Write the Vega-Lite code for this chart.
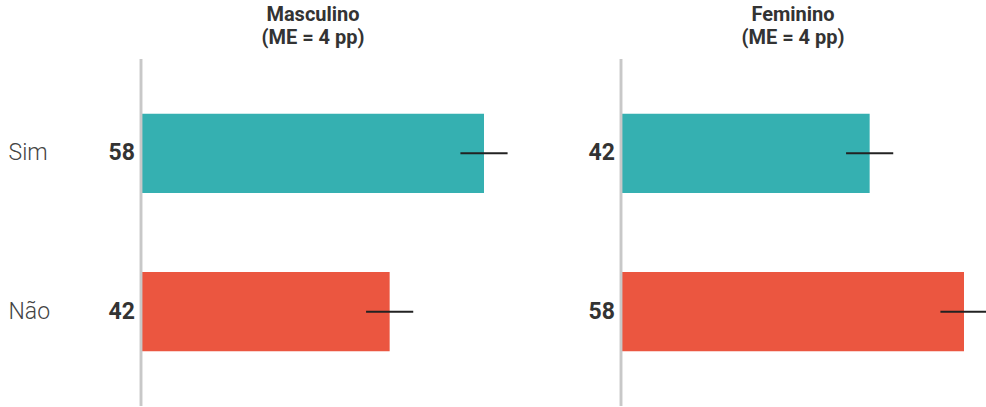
{
  "$schema": "https://vega.github.io/schema/vega-lite/v6.json",
  "autosize": {"type": "pad"},
  "padding": {"left": 8, "top": 4, "right": 0, "bottom": 0},
  "bounds": "flush",
  "spacing": 138,
  "config": {
    "view": {"stroke": null},
    "font": "Roboto",
    "title": {"fontSize": 20, "fontWeight": "bold", "color": "#333333", "anchor": "middle", "lineHeight": 23, "offset": 10}
  },
  "data": {
    "values": [
      {"genero": "Masculino", "resposta": "Sim", "valor": 58, "me": 4},
      {"genero": "Masculino", "resposta": "Não", "valor": 42, "me": 4},
      {"genero": "Feminino", "resposta": "Sim", "valor": 42, "me": 4},
      {"genero": "Feminino", "resposta": "Não", "valor": 58, "me": 4}
    ]
  },
  "hconcat": [
    {
      "width": 342,
      "height": 347,
      "title": {"text": ["Masculino", "(ME = 4 pp)"]},
      "transform": [{"filter": "datum.genero === 'Masculino'"}],
      "encoding": {
        "y": {
          "field": "resposta", "type": "nominal", "sort": ["Sim", "Não"],
          "scale": {"paddingInner": 0.5, "paddingOuter": 0.345},
          "axis": {"title": null, "domain": false, "ticks": false, "labelAlign": "left", "labelPadding": 134, "labelFontSize": 23, "labelFontWeight": 300, "labelColor": "#444444", "labelFont": "Roboto"}
        }
      },
      "layer": [
        {
          "mark": {"type": "bar"},
          "encoding": {
            "x": {"field": "valor", "type": "quantitative", "scale": {"domain": [0, 58], "nice": false, "zero": true}, "axis": null},
            "color": {"field": "resposta", "type": "nominal", "scale": {"domain": ["Sim", "Não"], "range": ["#35B0B1", "#EB5640"]}, "legend": null}
          }
        },
        {
          "mark": {"type": "errorbar", "color": "#222222", "thickness": 2},
          "encoding": {
            "x": {"field": "valor", "type": "quantitative", "scale": {"domain": [0, 58], "nice": false}},
            "xError": {"field": "me"}
          }
        },
        {
          "mark": {"type": "rule", "color": "#c8c8c8", "strokeWidth": 2.5, "xOffset": -1},
          "encoding": {"x": {"datum": 0, "type": "quantitative"}, "y": null}
        },
        {
          "mark": {"type": "text", "align": "right", "baseline": "middle", "dx": -7, "fontSize": 23, "fontWeight": "bold", "color": "#333333"},
          "encoding": {"x": {"datum": 0, "type": "quantitative"}, "text": {"field": "valor"}}
        }
      ]
    },
    {
      "width": 342,
      "height": 347,
      "title": {"text": ["Feminino", "(ME = 4 pp)"]},
      "transform": [{"filter": "datum.genero === 'Feminino'"}],
      "encoding": {
        "y": {
          "field": "resposta", "type": "nominal", "sort": ["Sim", "Não"],
          "scale": {"paddingInner": 0.5, "paddingOuter": 0.345},
          "axis": null
        }
      },
      "layer": [
        {
          "mark": {"type": "bar"},
          "encoding": {
            "x": {"field": "valor", "type": "quantitative", "scale": {"domain": [0, 58], "nice": false, "zero": true}, "axis": null},
            "color": {"field": "resposta", "type": "nominal", "scale": {"domain": ["Sim", "Não"], "range": ["#35B0B1", "#EB5640"]}, "legend": null}
          }
        },
        {
          "mark": {"type": "errorbar", "color": "#222222", "thickness": 2},
          "encoding": {
            "x": {"field": "valor", "type": "quantitative", "scale": {"domain": [0, 58], "nice": false}},
            "xError": {"field": "me"}
          }
        },
        {
          "mark": {"type": "rule", "color": "#c8c8c8", "strokeWidth": 2.5, "xOffset": -1},
          "encoding": {"x": {"datum": 0, "type": "quantitative"}, "y": null}
        },
        {
          "mark": {"type": "text", "align": "right", "baseline": "middle", "dx": -7, "fontSize": 23, "fontWeight": "bold", "color": "#333333"},
          "encoding": {"x": {"datum": 0, "type": "quantitative"}, "text": {"field": "valor"}}
        }
      ]
    }
  ]
}
